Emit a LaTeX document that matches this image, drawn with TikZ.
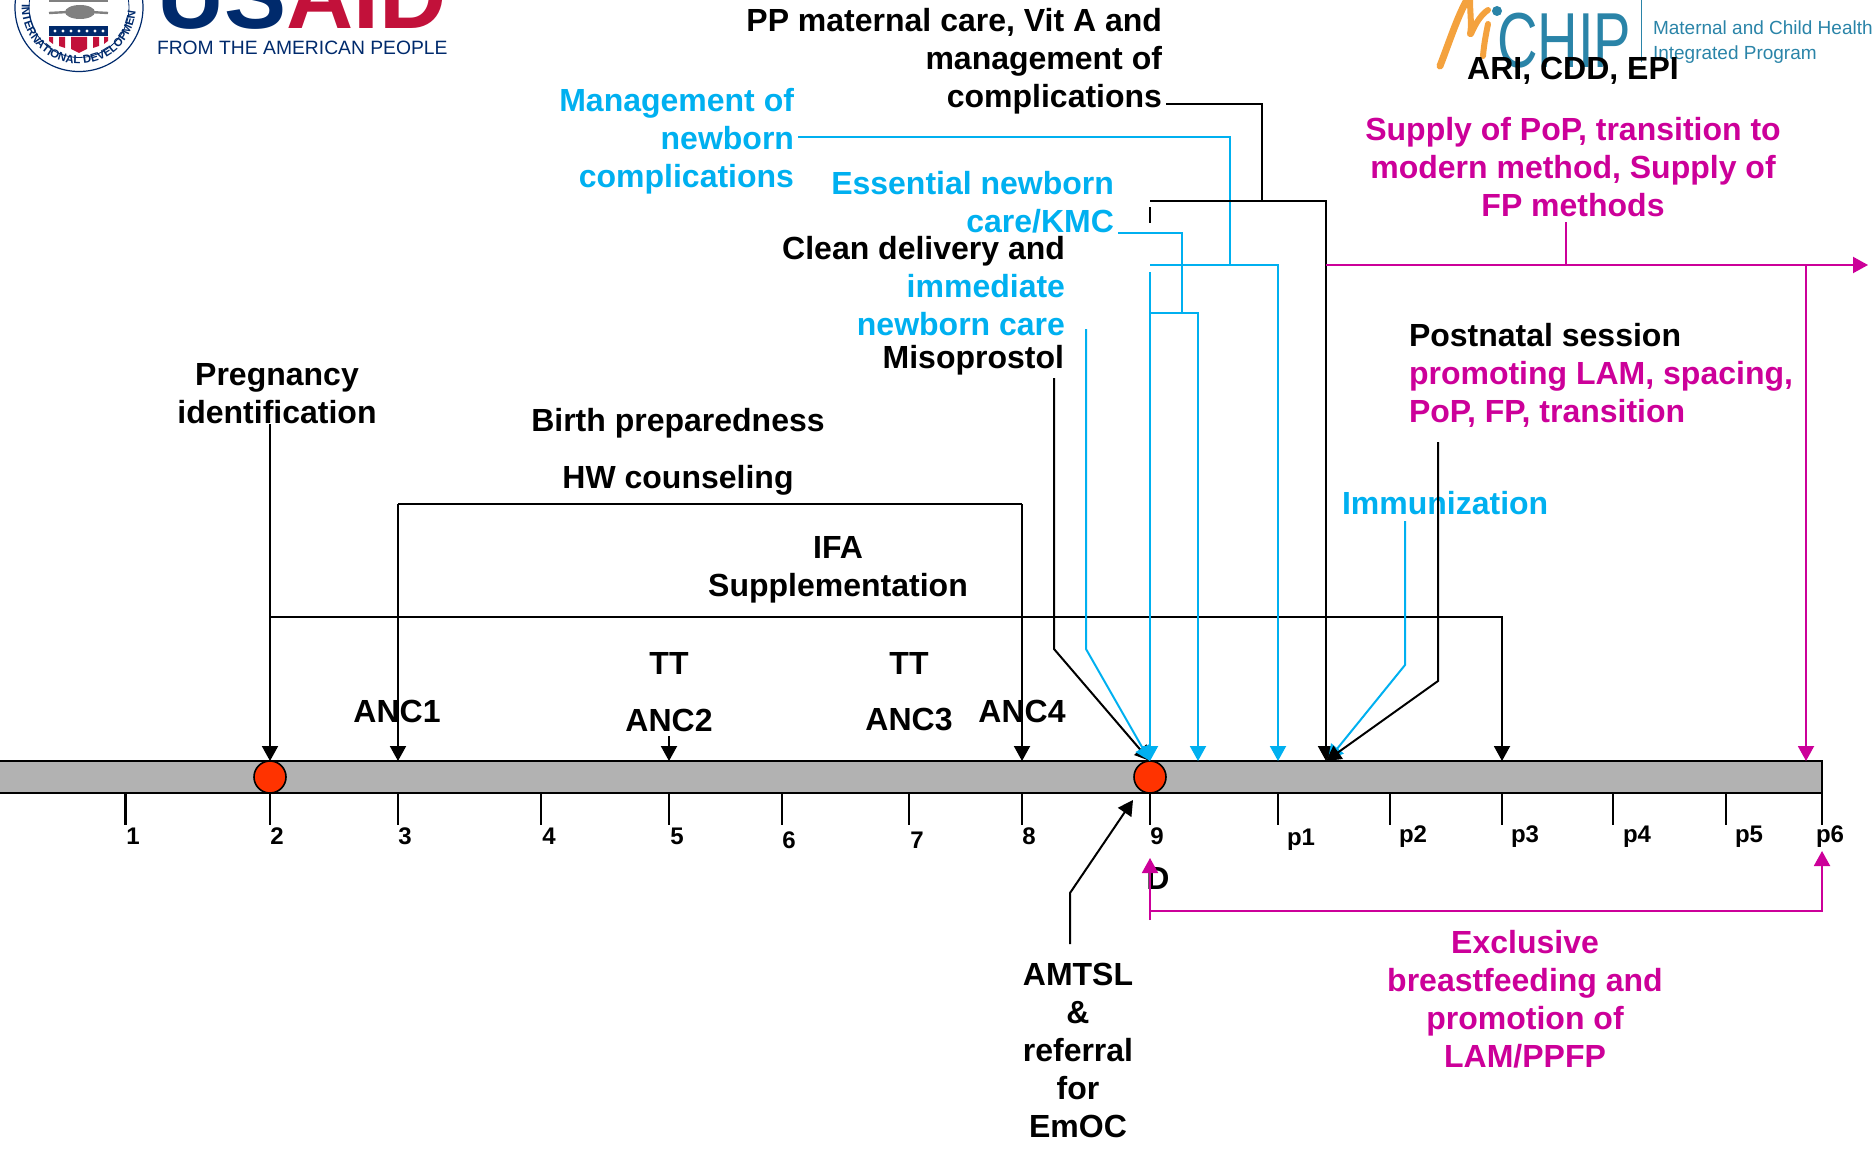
\documentclass[tikz,border=0pt]{standalone}
\usepackage{fontspec}
\usepackage{xcolor}
\setmainfont{Liberation Sans}
\usetikzlibrary{arrows.meta,decorations.text}
\definecolor{barcol}{HTML}{B2B2B2}
\definecolor{redcol}{HTML}{FF3300}
\definecolor{bluecol}{HTML}{00B0F0}
\definecolor{pinkcol}{HTML}{CC0099}
\definecolor{navycol}{HTML}{002A6C}
\definecolor{aidred}{HTML}{C2113A}
\definecolor{tealcol}{HTML}{2A84A8}
\definecolor{orangecol}{HTML}{F4A23E}
\newcommand{\lblfont}{\bfseries\fontsize{32}{38}\selectfont}
\newcommand{\tickfont}{\bfseries\fontsize{24}{28}\selectfont}

\begin{document}
\begin{tikzpicture}[x=1pt,y=-1pt]
            \tikzstyle{every node}+=[inner sep=0pt,outer sep=0pt]
            \tikzstyle{lbl}=[font=\lblfont,align=center]
            \tikzstyle{lblr}=[font=\lblfont,align=right,anchor=east]
            \tikzstyle{lbll}=[font=\lblfont,align=left,anchor=west]
            \tikzstyle{ticklbl}=[font=\tickfont]
            \tikzstyle{tickline}=[black,line width=2.6pt]
            \tikzstyle{blackline}=[black,line width=2pt]
            \tikzstyle{blueline}=[bluecol,line width=2pt]
            \tikzstyle{pinkline}=[pinkcol,line width=2pt]
            \tikzstyle{tipped}=[-{Triangle[length=15pt,width=16pt]}]
            \tikzstyle{dotmark}=[circle,draw=black,line width=1.6pt,fill=redcol,minimum size=32pt]
            \useasboundingbox (0,0) rectangle (1874,1153);
            \clip (0,0) rectangle (1874,1153);
            \draw [navycol,line width=1.2pt] (79,7.5) circle (64);
            \draw [navycol,line width=0.8pt] (79,7.5) circle (50);
            \path [decorate,decoration={text along path,text align=center,text={|\bfseries\fontsize{11.5}{12}\selectfont\color{navycol}|INTERNATIONAL DEVELOPMENT}}] (22,12) arc [start angle=175,end angle=5,radius=57];
            \draw [gray,line width=2.4pt] (49,13) -- (68,12);
            \draw [gray,line width=2.4pt] (90,12) -- (108,13);
            \draw [gray,line width=1.6pt] (49,1) -- (108,1);
            \fill [gray] (80,12) ellipse (15 and 7);
            \fill [navycol] (49,26.5) rectangle (108,36);
            \fill [white] (55,31) circle (1.7);
            \fill [white] (63,31) circle (1.7);
            \fill [white] (71,31) circle (1.7);
            \fill [white] (79,31) circle (1.7);
            \fill [white] (87,31) circle (1.7);
            \fill [white] (95,31) circle (1.7);
            \fill [white] (103,31) circle (1.7);
            \fill [aidred] (49,37) -- (53,37) -- (53,44) -- (49,41);
            \fill [aidred] (59,37) -- (65,37) -- (65,48) -- (59,46);
            \fill [aidred] (71,37) -- (79,37) -- (87,37) -- (87,49) -- (79,53) -- (71,49);
            \fill [aidred] (93,37) -- (99,37) -- (99,46) -- (93,48);
            \fill [aidred] (104,37) -- (108,37) -- (108,41) -- (104,44);
            \draw (157,29) node [anchor=base west,font=\bfseries\fontsize{93}{93}\selectfont] (usaid) {\textcolor{navycol}{US}\textcolor{aidred}{AID}};
            \draw (157,55) node [anchor=base west,text=navycol,font=\fontsize{19.3}{22}\selectfont] (people) {FROM THE AMERICAN PEOPLE};
            \draw [orangecol,line width=7pt,line cap=round] (1440,66) .. controls (1450,40) and (1458,15) .. (1468,-2);
            \draw [orangecol,line width=6pt,line cap=round] (1470,-2) .. controls (1470,15) and (1472,25) .. (1470,34);
            \draw [orangecol,line width=6pt,line cap=round] (1471,34) .. controls (1476,22) and (1482,14) .. (1488,10);
            \draw [orangecol,line width=6pt,line cap=round] (1488,24) .. controls (1486,34) and (1484,44) .. (1483,56);
            \fill [tealcol] (1497,11) circle (5);
            \draw (1497,68) node [anchor=base west,xscale=0.72,text=tealcol,font=\fontsize{78}{78}\selectfont] (chip) {CHIP};
            \draw [tealcol,line width=1pt] (1641,0) -- (1641,62);
            \draw (1653,35) node [anchor=base west,text=tealcol,font=\fontsize{19}{22}\selectfont] (mch) {Maternal and Child Health};
            \draw (1653,60) node [anchor=base west,text=tealcol,font=\fontsize{19}{22}\selectfont] (igp) {Integrated Program};
            \draw (908.5,777) node [rectangle,draw=black,line width=2pt,fill=barcol,minimum width=1827pt,minimum height=32pt] (timeline) {};
            \draw [tickline] (125.5,793) -- (125.5,825);
            \draw [tickline] (270,793) -- (270,825);
            \draw [tickline] (398,793) -- (398,825);
            \draw [tickline] (541,793) -- (541,825);
            \draw [tickline] (669,793) -- (669,825);
            \draw [tickline] (782,793) -- (782,825);
            \draw [tickline] (909,793) -- (909,825);
            \draw [tickline] (1022,793) -- (1022,825);
            \draw [tickline] (1150,793) -- (1150,825);
            \draw [tickline] (1278,793) -- (1278,825);
            \draw [tickline] (1390,793) -- (1390,825);
            \draw [tickline] (1502,793) -- (1502,825);
            \draw [tickline] (1613,793) -- (1613,825);
            \draw [tickline] (1726,793) -- (1726,825);
            \draw [tickline] (1822,793) -- (1822,825);
            \draw (133,836) node [ticklbl] (n1) {1};
            \draw (277,836) node [ticklbl] (n2) {2};
            \draw (405,836) node [ticklbl] (n3) {3};
            \draw (549,836) node [ticklbl] (n4) {4};
            \draw (677,836) node [ticklbl] (n5) {5};
            \draw (789,840) node [ticklbl] (n6) {6};
            \draw (917,840) node [ticklbl] (n7) {7};
            \draw (1029,836) node [ticklbl] (n8) {8};
            \draw (1157,836) node [ticklbl] (n9) {9};
            \draw (1301,840) node [ticklbl] (p1) {p1};
            \draw (1413,837) node [ticklbl] (p2) {p2};
            \draw (1525,837) node [ticklbl] (p3) {p3};
            \draw (1637,837) node [ticklbl] (p4) {p4};
            \draw (1749,837) node [ticklbl] (p5) {p5};
            \draw (1830,837) node [ticklbl] (p6) {p6};
            \draw (270,777) node [dotmark] (pregdot) {};
            \draw (1150,777) node [dotmark] (birthdot) {};
            \draw (277,394) node [lbl] (preg) {Pregnancy\\identification};
            \draw (678,423) node [lbl] (birthprep) {Birth preparedness};
            \draw (678,480) node [lbl] (hwcouns) {HW counseling};
            \draw (838,570) node [lbl] (ifa) {IFA\\Supplementation};
            \draw (669,663) node [lbl] (tta) {TT};
            \draw (669,720) node [lbl] (anc2) {ANC2};
            \draw (909,663) node [lbl] (ttb) {TT};
            \draw (909,720) node [lbl] (anc3) {ANC3};
            \draw (397,711) node [lbl] (anc1) {ANC1};
            \draw (1022,711) node [lbl] (anc4) {ANC4};
            \draw (1064,360) node [lblr] (miso) {Misoprostol};
            \draw (1065,286) node [lblr] (clean) {Clean delivery and\\\textcolor{bluecol}{immediate}\\\textcolor{bluecol}{newborn care}};
            \draw (1114,202) node [lblr,text=bluecol] (essential) {Essential newborn\\care/KMC};
            \draw (794,141) node [lblr,text=bluecol] (mgmt) {Management of\\newborn\\complications};
            \draw (1162,61) node [lblr] (ppcare) {PP maternal care, Vit A and\\management of\\complications};
            \draw (1573,71) node [lbl] (ari) {ARI, CDD, EPI};
            \draw (1573,167) node [lbl,text=pinkcol] (supply) {Supply of PoP, transition to\\modern method, Supply of\\FP methods};
            \draw (1409,375) node [lbll] (postnatal) {Postnatal session\\\textcolor{pinkcol}{promoting LAM, spacing,}\\\textcolor{pinkcol}{PoP, FP, transition}};
            \draw (1342,503) node [lbll,text=bluecol] (immun) {Immunization};
            \draw (1078,1050) node [lbl] (amtsl) {AMTSL\\\&\\referral\\for\\EmOC};
            \draw (1158,878) node [lbl] (dmark) {D};
            \draw (1525,999) node [lbl,text=pinkcol] (exclusive) {Exclusive\\breastfeeding and\\promotion of\\LAM/PPFP};
            \coordinate (pregtop) at (270,424);
            \coordinate (hwl) at (398,504);
            \coordinate (hwr) at (1022,504);
            \coordinate (hwla) at (398,761);
            \coordinate (hwra) at (1022,761);
            \coordinate (ifal) at (270,617);
            \coordinate (ifar) at (1502,617);
            \coordinate (ifaa) at (1502,761);
            \coordinate (anc2s) at (669,736);
            \coordinate (anc2a) at (669,761);
            \draw [blackline,tipped] (pregtop) -- (pregdot.north);
            \draw [blackline,tipped] (hwr) -- (hwra);
            \draw [blackline,tipped] (hwl) -- (hwla);
            \draw [blackline] (hwl) -- (hwr);
            \draw [blackline,tipped] (ifal) -- (ifar) -- (ifaa);
            \draw [blackline,tipped] (anc2s) -- (anc2a);
            \coordinate (misoa) at (1054,378);
            \coordinate (misob) at (1054,649);
            \draw [blackline,tipped] (misoa) -- (misob) -- (birthdot.north);
            \coordinate (carea) at (1086,329);
            \coordinate (careb) at (1086,649);
            \draw [blueline,tipped] (carea) -- (careb) -- (birthdot.north);
            \coordinate (enba) at (1118,233);
            \coordinate (enbb) at (1182,233);
            \coordinate (enbc) at (1182,313);
            \coordinate (enbd) at (1150,313);
            \coordinate (enbe) at (1198,313);
            \coordinate (enbf) at (1198,761);
            \draw [blueline] (enba) -- (enbb) -- (enbc);
            \draw [blueline,tipped] (enbd) -- (enbe) -- (enbf);
            \coordinate (mgma) at (798,137);
            \coordinate (mgmb) at (1230,137);
            \coordinate (mgmc) at (1230,265);
            \coordinate (mgmd) at (1150,265);
            \coordinate (mgme) at (1278,265);
            \coordinate (mgmf) at (1278,761);
            \coordinate (mgmg) at (1150,272);
            \draw [blueline] (mgma) -- (mgmb) -- (mgmc);
            \draw [blueline,tipped] (mgmd) -- (mgme) -- (mgmf);
            \draw [blueline,tipped] (mgmg) -- (birthdot.north);
            \coordinate (ppa) at (1166,104);
            \coordinate (ppb) at (1262,104);
            \coordinate (ppc) at (1262,201);
            \coordinate (ppd) at (1150,201);
            \coordinate (ppe) at (1326,201);
            \coordinate (ppf) at (1326,761);
            \coordinate (ppg) at (1150,207);
            \coordinate (pph) at (1150,223);
            \draw [blackline] (ppa) -- (ppb) -- (ppc);
            \draw [blackline,tipped] (ppd) -- (ppe) -- (ppf);
            \draw [blackline] (ppg) -- (pph);
            \coordinate (suppa) at (1566,222);
            \coordinate (suppb) at (1566,265);
            \coordinate (suppc) at (1326,265);
            \coordinate (suppd) at (1868,265);
            \coordinate (suppe) at (1806,265);
            \coordinate (suppf) at (1806,761);
            \draw [pinkline] (suppa) -- (suppb);
            \draw [pinkline,tipped] (suppc) -- (suppd);
            \draw [pinkline,tipped] (suppe) -- (suppf);
            \coordinate (imma) at (1405,521);
            \coordinate (immb) at (1405,665);
            \coordinate (immc) at (1328,760);
            \draw [blueline,tipped] (imma) -- (immb) -- (immc);
            \coordinate (posta) at (1438,442);
            \coordinate (postb) at (1438,681);
            \coordinate (postc) at (1326,761);
            \draw [blackline,tipped] (posta) -- (postb) -- (postc);
            \coordinate (amta) at (1070,944);
            \coordinate (amtb) at (1070,893);
            \coordinate (amtc) at (1133,800);
            \draw [blackline,tipped] (amta) -- (amtb) -- (amtc);
            \coordinate (exa) at (1150,920);
            \coordinate (exb) at (1150,858);
            \coordinate (exc) at (1150,911);
            \coordinate (exd) at (1822,911);
            \coordinate (exe) at (1822,851);
            \draw [pinkline,tipped] (exa) -- (exb);
            \draw [pinkline,tipped] (exc) -- (exd) -- (exe);
            \end{tikzpicture}
\end{document}
